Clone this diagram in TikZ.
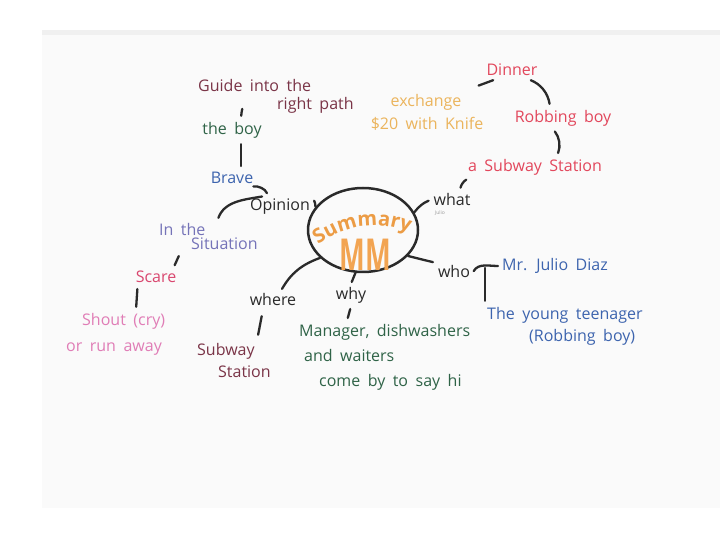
\documentclass[tikz,border=0pt]{standalone}
\usepackage{fontspec}
\setmainfont{Open Sans}[WordSpace=1.8]
\usetikzlibrary{arrows.meta,positioning,shapes.geometric,decorations.text}
\definecolor{MapInk}{HTML}{2A2A2A}
\definecolor{MapPaper}{HTML}{FAFAFA}
\definecolor{MapEdge}{HTML}{F0F0F0}
\definecolor{MapOrange}{HTML}{EC9C45}
\definecolor{MapMM}{HTML}{F2A452}
\definecolor{MapGold}{HTML}{EBB45C}
\definecolor{MapRed}{HTML}{E2475C}
\definecolor{MapMaroon}{HTML}{7A3447}
\definecolor{MapGreen}{HTML}{2F6347}
\definecolor{MapBlue}{HTML}{3D64AE}
\definecolor{MapViolet}{HTML}{7573B8}
\definecolor{MapPink}{HTML}{E07DB6}
\definecolor{MapRose}{HTML}{D9476F}

\begin{document}
\begin{tikzpicture}[x=1pt,y=1pt,font=\fontsize{16}{18}\selectfont]
\tikzset{
  word/.style={inner sep=3pt,align=left},
  hub/.style={ellipse,draw=MapInk,line width=2.5pt,minimum width=110pt,
              minimum height=84pt,inner sep=0pt},
  link/.style={MapInk,line width=2.3pt,line cap=round,shorten <=3pt,shorten >=3pt},
  spoke/.style={MapInk,line width=2.3pt,line cap=round,shorten <=2pt}
}

% ---------- sheet ------------------------------------------------------------
\useasboundingbox (0,0) rectangle (720,540);
\fill[white] (0,0) rectangle (720,540);
\fill[MapPaper] (42,32) rectangle (720,510);
\fill[MapEdge] (42,505) rectangle (720,510);

% ---------- centre -----------------------------------------------------------
\node[hub] (hub) at (363,310) {};
\path[decorate,decoration={text along path,text align=center,
  text={|\fontsize{20}{20}\selectfont\bfseries\color{MapOrange}|Summary}}]
  (315,293) to[bend left=30] (413,306);
\node[font=\fontsize{44}{44}\selectfont\bfseries,text=MapMM,inner sep=0pt] (mm)
  at (365,285) {\scalebox{0.62}[1]{MM}};
\node[font=\fontsize{5}{5}\selectfont,text=black!40,inner sep=0pt] (sig) at (440,327) {Julio};

% ---------- question words ---------------------------------------------------
\node[word,text=MapInk] (opinion) at (280,333) {Opinion};
\node[word,text=MapInk] (what) at (452,340) {what};
\node[word,text=MapInk] (who) at (454,268) {who};
\node[word,text=MapInk] (where) at (273,240) {where};
\node[word,text=MapInk] (why) at (351,245) {why};

\draw[spoke] ([yshift=-3pt]opinion.north east) to[bend left=15] (hub.154);
\draw[spoke] (what.west) to[bend right=15] (hub.19);
\draw[spoke] (who.north west) -- (hub.-30);
\draw[spoke] ([xshift=8pt]where.north) to[bend left=20] (hub.-147);
\draw[spoke] (why.north) -- (hub.-100);

% ---------- opinion branch ---------------------------------------------------
\node[word,text=MapBlue] (brave) at (232,362) {Brave};
\node[word,text=MapGreen] (boy) at (232,410) {the boy};
\node[word,text=MapMaroon,anchor=west] (guide) at (195,444)
  {Guide into the\\\hspace*{79pt}right path};
\node[word,text=MapViolet,anchor=west,font=\fontsize{16}{14}\selectfont] (situation)
  at (156,303) {In the\\\hspace*{32pt}Situation};
\node[word,text=MapRose] (scare) at (156,263) {Scare};
\node[word,text=MapPink,anchor=west,font=\fontsize{16}{26}\selectfont] (shout)
  at (63,206) {\hspace*{16pt}Shout (cry)\\or run away};

\draw[link] ([xshift=9pt]boy.north) to[bend left=5] ([xshift=48pt,yshift=-10pt]guide.west);
\draw[link] ([xshift=9pt]boy.south) -- ([xshift=9pt]brave.north);
\draw[link] ([xshift=-6pt]brave.south east) to[out=10,in=110] ([xshift=-12pt]opinion.north);
\draw[link] ([xshift=-15pt]opinion.north) to[out=190,in=70] ([xshift=9pt]situation.north);
\draw[link] ([xshift=24pt]situation.south west) -- ([xshift=-6pt]scare.north east);
\draw[link] ([xshift=5pt]scare.south west) -- ([xshift=73pt]shout.north west);

% ---------- where / why ------------------------------------------------------
\node[word,text=MapMaroon,anchor=west,font=\fontsize{16}{22}\selectfont] (subway)
  at (194,179) {Subway\\\hspace*{21pt}Station};
\node[word,text=MapGreen,anchor=west,font=\fontsize{16}{25}\selectfont] (manager)
  at (296,183) {Manager, dishwashers\\\hspace*{5pt}and waiters\\\hspace*{20pt}come by to say hi};

\draw[link,shorten <=7pt,shorten >=6pt] ([xshift=-10pt]where.south) -- ([xshift=63pt]subway.north west);
\draw[link] (why.south) -- ([xshift=51pt]manager.north west);

% ---------- what branch ------------------------------------------------------
\node[word,text=MapRed] (asubway) at (535,373) {a Subway Station};
\node[word,text=MapRed] (robbing) at (563,422) {Robbing boy};
\node[word,text=MapRed] (dinner) at (512,470) {Dinner};
\node[word,text=MapGold] (exchange) at (426,438) {exchange};
\node[word,text=MapGold] (knife) at (427,416) {\$20 with Knife};

\draw[link] ([xshift=8pt]what.north) to[bend left=25] ([xshift=4pt]asubway.south west);
\draw[link] ([xshift=22pt]asubway.north) to[bend right=30] ([xshift=-10pt]robbing.south);
\draw[link] ([xshift=-13pt]robbing.north) to[bend right=30] ([xshift=16pt]dinner.south);
\draw[link,shorten <=15pt] (exchange.north east) -- ([xshift=-16pt]dinner.south);

% ---------- who branch -------------------------------------------------------
\node[word,text=MapBlue] (julio) at (555,274) {Mr. Julio Diaz};
\node[word,text=MapBlue,anchor=west,font=\fontsize{16}{22}\selectfont] (teen)
  at (484,214) {The young teenager\\\hspace*{42pt}(Robbing boy)};
\coordinate (fork) at (485,272);

\draw[link,shorten <=1pt,shorten >=1pt] (who.east) to[out=60,in=180] (julio.west);
\draw[link,shorten <=0pt] (fork) -- ([xshift=1pt]teen.north west);
\end{tikzpicture}
\end{document}
